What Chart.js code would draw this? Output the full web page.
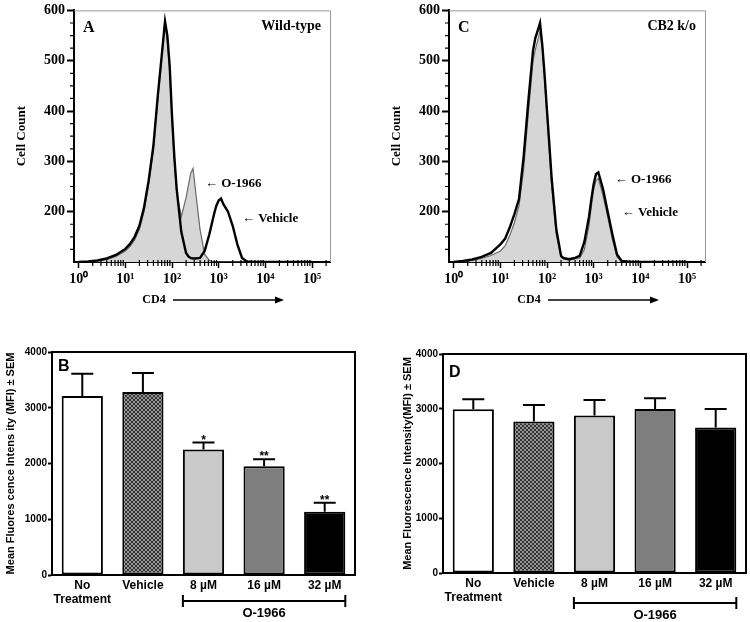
<!DOCTYPE html>
<html><head><meta charset="utf-8">
<script src="https://cdn.jsdelivr.net/npm/chart.js@4.4.1/dist/chart.umd.min.js"></script>
<style>
html,body{margin:0;padding:0;background:#fff;}
#wrap{position:relative;width:750px;height:622px;overflow:hidden;background:#fff;}
canvas{position:absolute;}
</style></head><body>
<div id="wrap">
<canvas id="cA" width="375" height="310" style="left:0;top:0"></canvas>
<canvas id="cC" width="375" height="310" style="left:375px;top:0"></canvas>
<canvas id="cB" width="375" height="312" style="left:0;top:310px"></canvas>
<canvas id="cD" width="375" height="312" style="left:375px;top:310px"></canvas>
</div>
<script>
// ---------- DATA ----------
// CD4 fluorescence bins (log-spaced channel centres)
const cd4Bins = [1,1.58,2.51,3.98,6.31,10,12.6,15.8,20,25.1,31.6,39.8,50.1,56.2,63.1,70.8,79.4,89.1,100,112,126,158,200,224,251,282,316,398,501,631,794,891,1000,1122,1259,1585,1995,2512,3162,3981,6310,10000,100000];
const decadeTicks = [1,10,100,1000,10000,100000];
const decadeLabels = ['10\u2070','10\u00B9','10\u00B2','10\u00B3','10\u2074','10\u2075'];
const countTicks = [200,300,400,500,600];

// Panel A (Wild-type) cell counts
const wtVehicle = [100,101,103,107,114,126,136,150,172,208,262,330,435,482,530,578,550,490,390,310,245,160,118,111,108,107,107,108,122,155,195,212,222,226,215,200,172,135,108,101,100,100,100];
const wtO1966   = [100,100,102,105,111,122,131,144,165,200,255,322,428,476,525,585,540,478,380,300,238,190,228,252,276,286,245,165,115,103,100,100,100,100,100,100,100,100,100,100,100,100,100];
// Panel C (CB2 k/o) cell counts
const koVehicle = [100,102,105,110,118,135,146,168,195,225,310,420,520,545,560,575,530,470,400,335,265,165,112,108,107,106,106,108,112,140,190,225,255,275,278,245,200,155,115,102,100,100,100];
const koO1966   = [100,101,103,107,113,122,132,152,178,212,285,395,500,522,540,558,525,460,390,320,250,155,110,106,105,104,104,106,108,125,172,210,245,262,266,232,190,145,110,101,100,100,100];

// Bar panels
const treatments = [['No','Treatment'],'Vehicle','8 \u00B5M','16 \u00B5M','32 \u00B5M'];
const mfiB = [3212,3284,2251,1952,1134];
const semB = [400,340,125,126,162];
const starsB = ['','','*','**','**'];
const mfiD = [2991,2766,2875,2997,2657];
const semD = [182,304,286,194,340];
const starsD = ['','','','',''];
const mfiTicks = [0,1000,2000,3000,4000];

// ---------- STYLE HELPERS ----------
const SERIF = '"Liberation Serif", "Times New Roman", serif';
const SANS = '"Liberation Sans", Arial, sans-serif';

const hatch = (() => {
  const c = document.createElement('canvas'); c.width = 4; c.height = 4;
  const g = c.getContext('2d');
  g.fillStyle = '#959595'; g.fillRect(0,0,4,4);
  g.fillStyle = '#333333';
  [[0,0],[1,1],[2,2],[3,3],[3,0],[2,1],[1,2],[0,3]].forEach(([x,y]) => g.fillRect(x,y,1,1));
  return g.createPattern(c,'repeat');
})();
const barColors = ['#ffffff', hatch, '#c9c9c9', '#7e7e7e', '#000000'];

// ---------- PLUGINS ----------
const histDecor = {
  id: 'histDecor',
  beforeDatasetsDraw(chart) {
    const ctx = chart.ctx, ca = chart.chartArea;
    ctx.save();
    ctx.strokeStyle = '#9a9a9a'; ctx.lineWidth = 1;
    ctx.beginPath();
    ctx.moveTo(ca.left, ca.top + 0.5); ctx.lineTo(ca.right + 0.5, ca.top + 0.5); ctx.lineTo(ca.right + 0.5, ca.bottom);
    ctx.stroke();
    ctx.restore();
  },
  afterDraw(chart, args, o) {
    const ctx = chart.ctx, ca = chart.chartArea, xs = chart.scales.x, ys = chart.scales.y;
    ctx.save();
    ctx.strokeStyle = '#000'; ctx.lineWidth = 1.2;
    ctx.beginPath();
    for (let d = 0; d <= 5; d++) {
      for (let m = 2; m <= 9; m++) {
        const v = m * Math.pow(10, d);
        if (v > xs.max) continue;
        const px = xs.getPixelForValue(v);
        ctx.moveTo(px, ca.bottom - 2); ctx.lineTo(px, ca.bottom + 4);
      }
    }
    for (let v = 125; v < 600; v += 25) {
      if (v % 100 === 0) continue;
      const py = ys.getPixelForValue(v);
      ctx.moveTo(ca.left - 4, py); ctx.lineTo(ca.left + 1, py);
    }
    ctx.stroke();
    ctx.fillStyle = '#000';
    ctx.font = 'bold 16px ' + SERIF; ctx.textBaseline = 'middle'; ctx.textAlign = 'left';
    ctx.fillText(o.letter, ca.left + 9, ca.top + 17);
    ctx.font = 'bold 14px ' + SERIF; ctx.textAlign = 'right';
    ctx.fillText(o.strain, ca.right - 9, ca.top + 16);
    ctx.font = 'bold 13px ' + SERIF; ctx.textAlign = 'left';
    o.notes.forEach(n => ctx.fillText(n.text, xs.getPixelForValue(n.x), ys.getPixelForValue(n.y)));
    const ty = ca.bottom + 38;
    ctx.font = 'bold 12px ' + SERIF; ctx.textAlign = 'center';
    ctx.fillText('CD4', ca.left + 80, ty);
    ctx.lineWidth = 1.6;
    ctx.beginPath(); ctx.moveTo(ca.left + 99, ty); ctx.lineTo(ca.left + 203, ty); ctx.stroke();
    ctx.beginPath(); ctx.moveTo(ca.left + 210, ty); ctx.lineTo(ca.left + 201, ty - 3.5); ctx.lineTo(ca.left + 201, ty + 3.5); ctx.closePath(); ctx.fill();
    ctx.restore();
  }
};

const barDecor = {
  id: 'barDecor',
  afterDatasetsDraw(chart, args, o) {
    const ctx = chart.ctx, ys = chart.scales.y, meta = chart.getDatasetMeta(0);
    ctx.save();
    ctx.strokeStyle = '#000'; ctx.fillStyle = '#000'; ctx.lineWidth = 2;
    meta.data.forEach((el, i) => {
      const top = ys.getPixelForValue(o.values[i] + o.errors[i]);
      ctx.beginPath();
      ctx.moveTo(el.x, el.y); ctx.lineTo(el.x, top);
      ctx.moveTo(el.x - 11, top); ctx.lineTo(el.x + 11, top);
      ctx.stroke();
      if (o.stars[i]) {
        ctx.font = 'bold 12px ' + SANS; ctx.textAlign = 'center'; ctx.textBaseline = 'alphabetic';
        ctx.fillText(o.stars[i], el.x, top + 1);
      }
    });
    ctx.restore();
  },
  afterDraw(chart, args, o) {
    const ctx = chart.ctx, ca = chart.chartArea, meta = chart.getDatasetMeta(0);
    ctx.save();
    ctx.strokeStyle = '#000'; ctx.lineWidth = 2;
    ctx.strokeRect(ca.left, ca.top, ca.right - ca.left, ca.bottom - ca.top);
    ctx.fillStyle = '#000';
    ctx.font = 'bold 16px ' + SANS; ctx.textAlign = 'left'; ctx.textBaseline = 'middle';
    ctx.fillText(o.letter, ca.left + 6, ca.top + o.letterDy);
    const a = meta.data[2], b = meta.data[4];
    const x1 = a.x - a.width / 2, x2 = b.x + b.width / 2, by = ca.bottom + o.bracketDy;
    ctx.lineWidth = 2;
    ctx.beginPath();
    ctx.moveTo(x1, by); ctx.lineTo(x2, by);
    ctx.moveTo(x1, by - 6); ctx.lineTo(x1, by + 6);
    ctx.moveTo(x2, by - 6); ctx.lineTo(x2, by + 6);
    ctx.stroke();
    ctx.font = 'bold 13px ' + SANS; ctx.textAlign = 'center';
    ctx.fillText('O-1966', (x1 + x2) / 2, by + 12);
    ctx.restore();
  }
};

// ---------- CHART BUILDERS ----------
function histChart(id, vehicle, o1966, letter, strain, notes) {
  return new Chart(document.getElementById(id), {
    type: 'line',
    data: { datasets: [
      { label: 'Vehicle', data: cd4Bins.map((x, i) => ({ x, y: vehicle[i] })), borderColor: '#000', borderWidth: 2.4, pointRadius: 0, fill: false, tension: 0 },
      { label: 'O-1966', data: cd4Bins.map((x, i) => ({ x, y: o1966[i] })), borderColor: '#6a6a6a', borderWidth: 1.2, backgroundColor: '#d6d6d6', pointRadius: 0, fill: 'start', tension: 0 }
    ]},
    options: {
      responsive: false, animation: false,
      layout: { padding: { left: 10, right: 45, top: 8, bottom: 0 } },
      plugins: { legend: { display: false }, tooltip: { enabled: false },
        histDecor: { letter, strain, notes } },
      scales: {
        x: { type: 'logarithmic', min: 0.794, max: 242700,
          afterBuildTicks: s => { s.ticks = decadeTicks.map(v => ({ value: v })); },
          afterFit: s => { s.height = 48; },
          grid: { drawOnChartArea: false, drawTicks: true, tickLength: 6, color: '#000', tickWidth: 1.5 },
          border: { color: '#000', width: 2 },
          ticks: { callback: (v, i) => decadeLabels[i], font: { family: SERIF, size: 14, weight: 'bold' }, color: '#000', padding: 3, maxRotation: 0, autoSkip: false } },
        y: { min: 100, max: 600,
          afterBuildTicks: s => { s.ticks = countTicks.map(v => ({ value: v })); },
          afterFit: s => { s.width = 64; },
          grid: { drawOnChartArea: false, drawTicks: true, tickLength: 7, color: '#000', tickWidth: 2 },
          border: { color: '#000', width: 2 },
          ticks: { callback: v => String(v), font: { family: SERIF, size: 14, weight: 'bold' }, color: '#000', padding: 2 },
          title: { display: true, text: 'Cell Count', font: { family: SERIF, size: 13, weight: 'bold' }, color: '#000', padding: { top: 4, bottom: 0 } } }
      }
    },
    plugins: [histDecor]
  });
}

function barChart(id, values, errors, stars, letter, yTitle, pad, yWidth, xHeight, letterDy, bracketDy) {
  return new Chart(document.getElementById(id), {
    type: 'bar',
    data: { labels: treatments, datasets: [{ data: values, backgroundColor: barColors, borderColor: '#000', borderWidth: 2, borderSkipped: false, barPercentage: 0.68, categoryPercentage: 1.0 }] },
    options: {
      responsive: false, animation: false,
      layout: { padding: pad },
      plugins: { legend: { display: false }, tooltip: { enabled: false },
        barDecor: { values, errors, stars, letter, letterDy, bracketDy } },
      scales: {
        x: { afterFit: s => { s.height = xHeight; },
          grid: { drawOnChartArea: false, drawTicks: false },
          border: { color: '#000', width: 2 },
          ticks: { font: { family: SANS, size: 12, weight: 'bold' }, color: '#000', padding: 3, maxRotation: 0, autoSkip: false } },
        y: { min: 0, max: 4000,
          afterBuildTicks: s => { s.ticks = mfiTicks.map(v => ({ value: v })); },
          afterFit: s => { s.width = yWidth; },
          grid: { drawOnChartArea: false, drawTicks: true, tickLength: 4, color: '#000', tickWidth: 2 },
          border: { color: '#000', width: 2 },
          ticks: { callback: v => String(v), font: { family: SANS, size: 10, weight: 'bold' }, color: '#000', padding: 1 },
          title: { display: true, text: yTitle, font: { family: SANS, size: 11, weight: 'bold' }, color: '#000', padding: { top: 3, bottom: 0 } } }
      }
    },
    plugins: [barDecor]
  });
}

histChart('cA', wtVehicle, wtO1966, 'A', 'Wild-type',
  [{ text: '\u2190 O-1966', x: 507, y: 255 }, { text: '\u2190 Vehicle', x: 3162, y: 187 }]);
histChart('cC', koVehicle, koO1966, 'C', 'CB2 k/o',
  [{ text: '\u2190 O-1966', x: 2818, y: 263 }, { text: '\u2190 Vehicle', x: 3981, y: 198 }]);
barChart('cB', mfiB, semB, starsB, 'B', 'Mean Fluores cence Intens ity (MFI) \u00B1 SEM',
  { left: 1, right: 20, top: 42, bottom: 0 }, 51, 47, 15, 26);
barChart('cD', mfiD, semD, starsD, 'D', 'Mean Fluorescence Intensity(MFI) \u00B1 SEM',
  { left: 23, right: 4, top: 44, bottom: 0 }, 45, 49, 19, 30);
</script>
</body></html>
